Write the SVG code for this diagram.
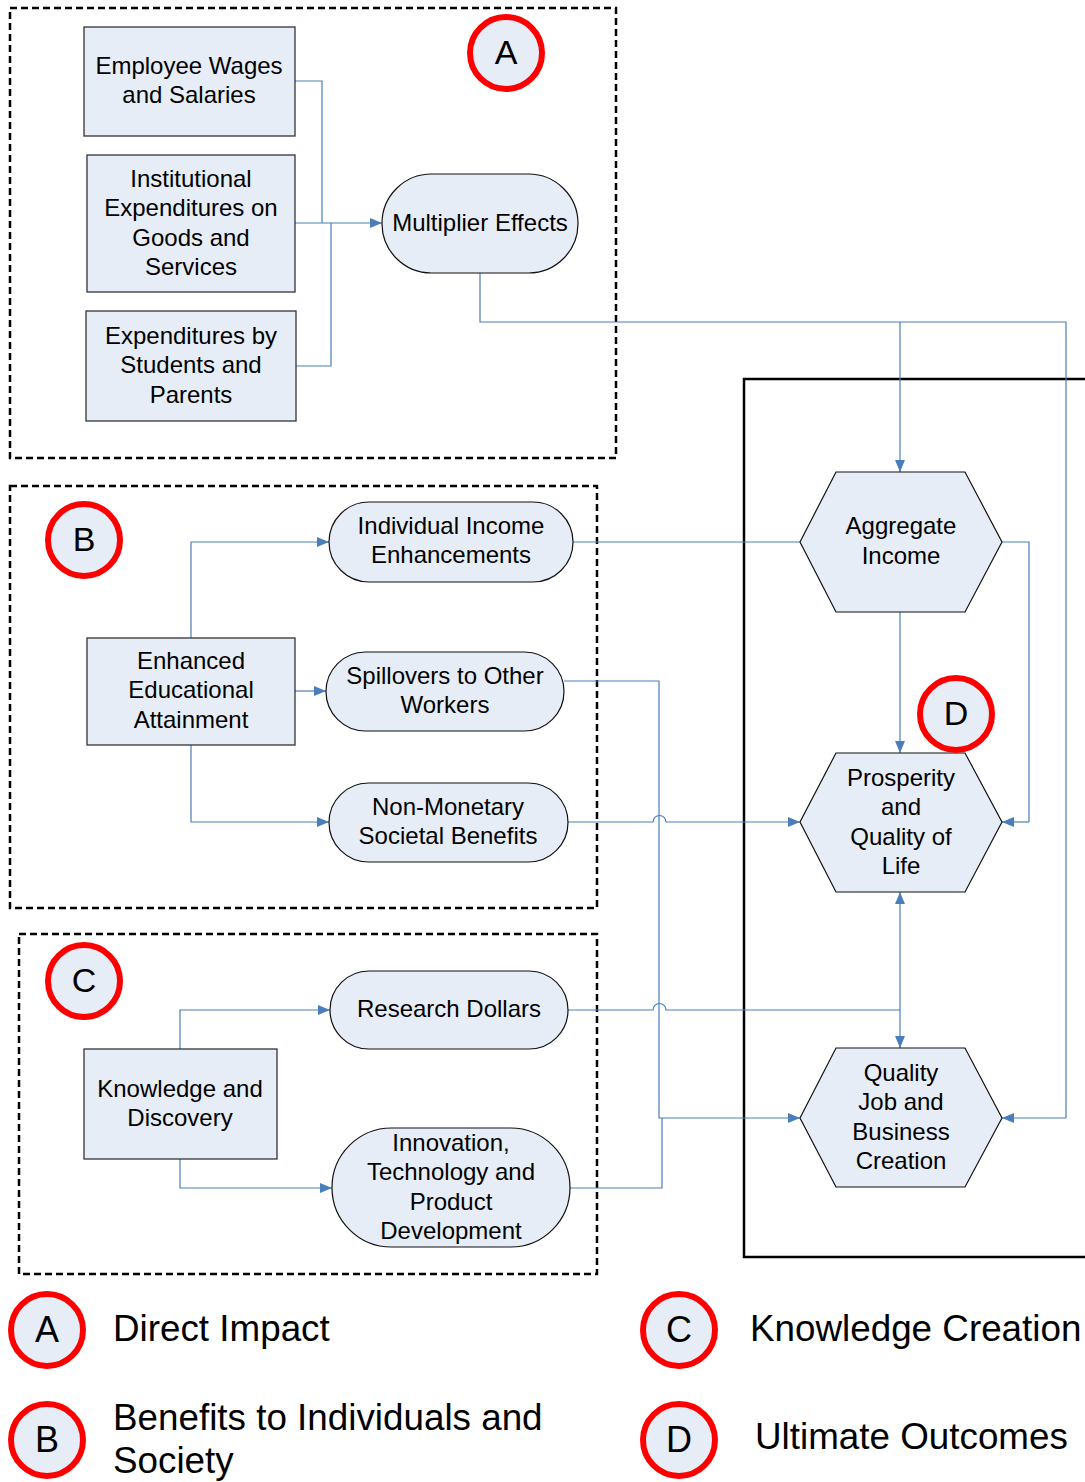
<svg xmlns="http://www.w3.org/2000/svg" width="1085" height="1482" viewBox="0 0 1085 1482">
<style>
  text { font-family: "Liberation Sans", Arial, sans-serif; fill: #000; }
  .t { font-size: 24px; text-anchor: middle; }
  .box { fill: #e7edf7; stroke: #333; stroke-width: 1.3; }
  .stad { fill: #e7edf7; stroke: #111; stroke-width: 1.2; }
  .hex { fill: #e7edf7; stroke: #111; stroke-width: 1.2; }
  .grp { fill: none; stroke: #000; stroke-width: 2.5; stroke-dasharray: 7 4; }
  .outer { fill: none; stroke: #000; stroke-width: 2.5; }
  .badge { fill: #e7edf7; stroke: #ff0000; stroke-width: 6; }
  .bl { font-size: 34px; text-anchor: middle; }
  .lg { font-size: 36.8px; }
  .lgl { font-size: 36px; text-anchor: middle; }
  .c { fill: none; stroke: #4a7ebb; stroke-width: 1.2; }
  .a { marker-end: url(#arr); }
</style>
<defs>
  <marker id="arr" markerUnits="userSpaceOnUse" markerWidth="13" markerHeight="11" refX="12" refY="5" orient="auto">
    <path d="M0,0 L12,5 L0,10 z" fill="#4a7ebb"/>
  </marker>
  <marker id="arrs" markerUnits="userSpaceOnUse" markerWidth="13" markerHeight="11" refX="12" refY="5" orient="auto-start-reverse">
    <path d="M0,0 L12,5 L0,10 z" fill="#4a7ebb"/>
  </marker>
</defs>

<g id="groups">
  <rect class="grp" x="10" y="8" width="606" height="450"/>
  <rect class="grp" x="10" y="486" width="587" height="422"/>
  <rect class="grp" x="19" y="934" width="578" height="340"/>
  <path class="outer" d="M1085,379 H744 V1257 H1085"/>
</g>

<g id="connectors">
  <path class="c" d="M295,81 H322 V223"/>
  <path class="c a" d="M295,223 H382"/>
  <path class="c" d="M296,366 H331 V223"/>
  <path class="c" d="M480,273 V322 H1066 V1118"/>
  <path class="c a" d="M1066,1118 H1002"/>
  <path class="c a" d="M900,322 V472"/>
  <path class="c a" d="M191,638 V542 H329"/>
  <path class="c a" d="M295,691 H326"/>
  <path class="c a" d="M191,745 V822 H329"/>
  <path class="c" d="M573,542 H800"/>
  <path class="c a" d="M564,681 H659 V1118 H800"/>
  <path class="c a" d="M568,822 H653 A6.5,6.5 0 0 1 666,822 H800"/>
  <path class="c a" d="M900,612 V753"/>
  <path class="c" d="M1002,542 H1029 V822"/>
  <path class="c a" d="M1029,822 H1002"/>
  <path class="c" d="M900,892 V1048" marker-start="url(#arrs)" marker-end="url(#arrs)"/>
  <path class="c a" d="M180,1049 V1010 H330"/>
  <path class="c a" d="M180,1159 V1188 H332"/>
  <path class="c" d="M568,1010 H653 A6.5,6.5 0 0 1 666,1010 H900"/>
  <path class="c" d="M570,1188 H662 V1118"/>
</g>

<g id="employee-wages">
  <rect class="box" x="84" y="27" width="211" height="109"/>
  <text class="t" x="189" y="73.5">Employee Wages</text>
  <text class="t" x="189" y="103">and Salaries</text>
</g>
<g id="institutional">
  <rect class="box" x="87" y="155" width="208" height="137"/>
  <text class="t" x="191" y="186.5">Institutional</text>
  <text class="t" x="191" y="216">Expenditures on</text>
  <text class="t" x="191" y="245.5">Goods and</text>
  <text class="t" x="191" y="275">Services</text>
</g>
<g id="students">
  <rect class="box" x="86" y="311" width="210" height="110"/>
  <text class="t" x="191" y="343.5">Expenditures by</text>
  <text class="t" x="191" y="373">Students and</text>
  <text class="t" x="191" y="402.5">Parents</text>
</g>
<g id="multiplier">
  <rect class="stad" x="382" y="174" width="196" height="99" rx="49.5" ry="49.5"/>
  <text class="t" x="480" y="230.5">Multiplier Effects</text>
</g>
<g id="badge-a">
  <circle class="badge" cx="506" cy="53" r="36"/>
  <text class="bl" x="506" y="64">A</text>
</g>

<g id="badge-b">
  <circle class="badge" cx="84" cy="540" r="36"/>
  <text class="bl" x="84" y="551">B</text>
</g>
<g id="enhanced">
  <rect class="box" x="87" y="638" width="208" height="107"/>
  <text class="t" x="191" y="668.5">Enhanced</text>
  <text class="t" x="191" y="698">Educational</text>
  <text class="t" x="191" y="727.5">Attainment</text>
</g>
<g id="individual-income">
  <rect class="stad" x="329" y="502" width="244" height="80" rx="40" ry="40"/>
  <text class="t" x="451" y="533.5">Individual Income</text>
  <text class="t" x="451" y="563">Enhancements</text>
</g>
<g id="spillovers">
  <rect class="stad" x="326" y="652" width="238" height="79" rx="39.5" ry="39.5"/>
  <text class="t" x="445" y="683.5">Spillovers to Other</text>
  <text class="t" x="445" y="713">Workers</text>
</g>
<g id="non-monetary">
  <rect class="stad" x="329" y="783" width="239" height="79" rx="39.5" ry="39.5"/>
  <text class="t" x="448" y="814.5">Non-Monetary</text>
  <text class="t" x="448" y="844">Societal Benefits</text>
</g>

<g id="badge-c">
  <circle class="badge" cx="84" cy="981" r="36"/>
  <text class="bl" x="84" y="992">C</text>
</g>
<g id="knowledge">
  <rect class="box" x="84" y="1049" width="193" height="110"/>
  <text class="t" x="180" y="1096.5">Knowledge and</text>
  <text class="t" x="180" y="1126">Discovery</text>
</g>
<g id="research">
  <rect class="stad" x="330" y="971" width="238" height="78" rx="39" ry="39"/>
  <text class="t" x="449" y="1016.5">Research Dollars</text>
</g>
<g id="innovation">
  <rect class="stad" x="332" y="1128" width="238" height="119" rx="59.5" ry="59.5"/>
  <text class="t" x="451" y="1150.5">Innovation,</text>
  <text class="t" x="451" y="1180">Technology and</text>
  <text class="t" x="451" y="1209.5">Product</text>
  <text class="t" x="451" y="1239">Development</text>
</g>

<g id="aggregate-income">
  <polygon class="hex" points="836,472 965,472 1002,542 965,612 836,612 800,542"/>
  <text class="t" x="901" y="534">Aggregate</text>
  <text class="t" x="901" y="563.5">Income</text>
</g>
<g id="prosperity">
  <polygon class="hex" points="836,753 965,753 1002,822 965,892 836,892 800,822"/>
  <text class="t" x="901" y="785.5">Prosperity</text>
  <text class="t" x="901" y="815">and</text>
  <text class="t" x="901" y="844.5">Quality of</text>
  <text class="t" x="901" y="874">Life</text>
</g>
<g id="quality-jobs">
  <polygon class="hex" points="836,1048 965,1048 1002,1118 965,1187 836,1187 800,1118"/>
  <text class="t" x="901" y="1080.5">Quality</text>
  <text class="t" x="901" y="1110">Job and</text>
  <text class="t" x="901" y="1139.5">Business</text>
  <text class="t" x="901" y="1169">Creation</text>
</g>
<g id="badge-d">
  <circle class="badge" cx="956" cy="714" r="36"/>
  <text class="bl" x="956" y="725">D</text>
</g>

<g id="legend">
  <circle class="badge" cx="47" cy="1330" r="36"/>
  <text class="lgl" x="47" y="1342">A</text>
  <text class="lg" x="113" y="1341">Direct Impact</text>
  <circle class="badge" cx="47" cy="1440" r="36"/>
  <text class="lgl" x="47" y="1452">B</text>
  <text class="lg" x="113" y="1430">Benefits to Individuals and</text>
  <text class="lg" x="113" y="1473">Society</text>
  <circle class="badge" cx="679" cy="1330" r="36"/>
  <text class="lgl" x="679" y="1342">C</text>
  <text class="lg" x="750" y="1341">Knowledge Creation</text>
  <circle class="badge" cx="679" cy="1440" r="36"/>
  <text class="lgl" x="679" y="1452">D</text>
  <text class="lg" x="755" y="1449">Ultimate Outcomes</text>
</g>
</svg>
